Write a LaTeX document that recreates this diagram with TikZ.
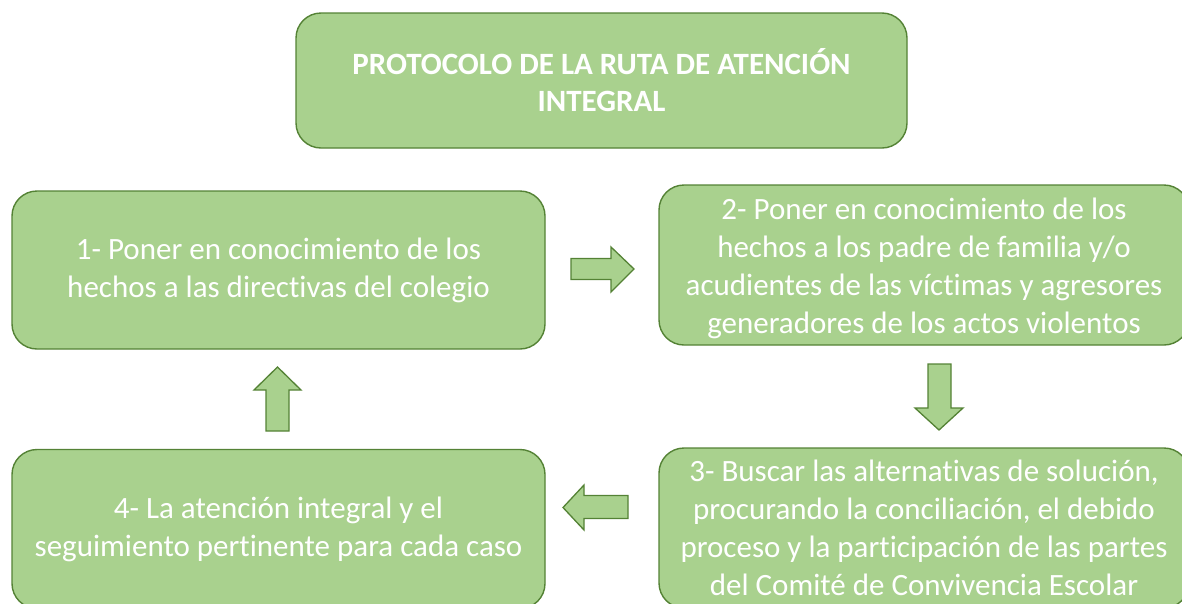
\documentclass[tikz,border=0pt]{standalone}
\usepackage{fontspec}
\setmainfont{Carlito}[Ligatures={NoCommon,NoContextual,NoRare}]
\definecolor{boxfill}{HTML}{A9D18E}
\definecolor{boxline}{HTML}{548235}
\begin{document}
\begin{tikzpicture}[x=1pt,y=-1pt,
  box/.style={draw=boxline, fill=boxfill, line width=1.4pt, rounded corners=25pt,
    align=center, text=white, inner sep=0pt, font=\fontsize{31}{38}\selectfont},
  boxtext/.style={align=center, text=white, inner sep=0pt, font=\fontsize{31}{38}\selectfont},
  blockarrow/.style={draw=boxline, fill=boxfill, line width=1.3pt, line join=miter}]
\useasboundingbox (0,0) rectangle (1182,603);
\clip (0,0) rectangle (1182,603);
\node[box, minimum width=611pt, minimum height=135pt, font=\fontsize{31}{37}\selectfont\bfseries]
  (title) at (601.5,80.5) {PROTOCOLO DE LA RUTA DE ATENCIÓN\\INTEGRAL};
\node[box, minimum width=533pt, minimum height=158pt] (s1) at (278.5,270)
  {1- Poner en conocimiento de los\\hechos a las directivas del colegio};
\node[box, minimum width=530pt, minimum height=160pt] (s2) at (924,265) {};
\node[boxtext] (s2text) at ([yshift=-3.5pt]s2.center)
  {2- Poner en conocimiento de los\\hechos a los padre de familia y/o\\acudientes de las víctimas y agresores\\generadores de los actos violentos};
\node[box, minimum width=530pt, minimum height=160pt] (s3) at (924,528)
  {3- Buscar las alternativas de solución,\\procurando la conciliación, el debido\\proceso y la participación de las partes\\del Comité de Convivencia Escolar};
\node[box, minimum width=533pt, minimum height=159pt] (s4) at (278.5,529)
  {4- La atención integral y el\\seguimiento pertinente para cada caso};
% block arrows
\draw[blockarrow] (571,258.5) -- (611,258.5) -- (611,247) -- (634,269) -- (611,292) -- (611,279.5) -- (571,279.5) -- cycle;
\draw[blockarrow] (928,364) -- (928,408) -- (915,408) -- (939,430) -- (963,408) -- (951,408) -- (951,364) -- cycle;
\draw[blockarrow] (628,495.5) -- (584,495.5) -- (584,485) -- (563,507.5) -- (584,530) -- (584,518.5) -- (628,518.5) -- cycle;
\draw[blockarrow] (266,431) -- (266,390) -- (254,390) -- (277.5,367) -- (301,390) -- (289,390) -- (289,431) -- cycle;
\end{tikzpicture}
\end{document}
